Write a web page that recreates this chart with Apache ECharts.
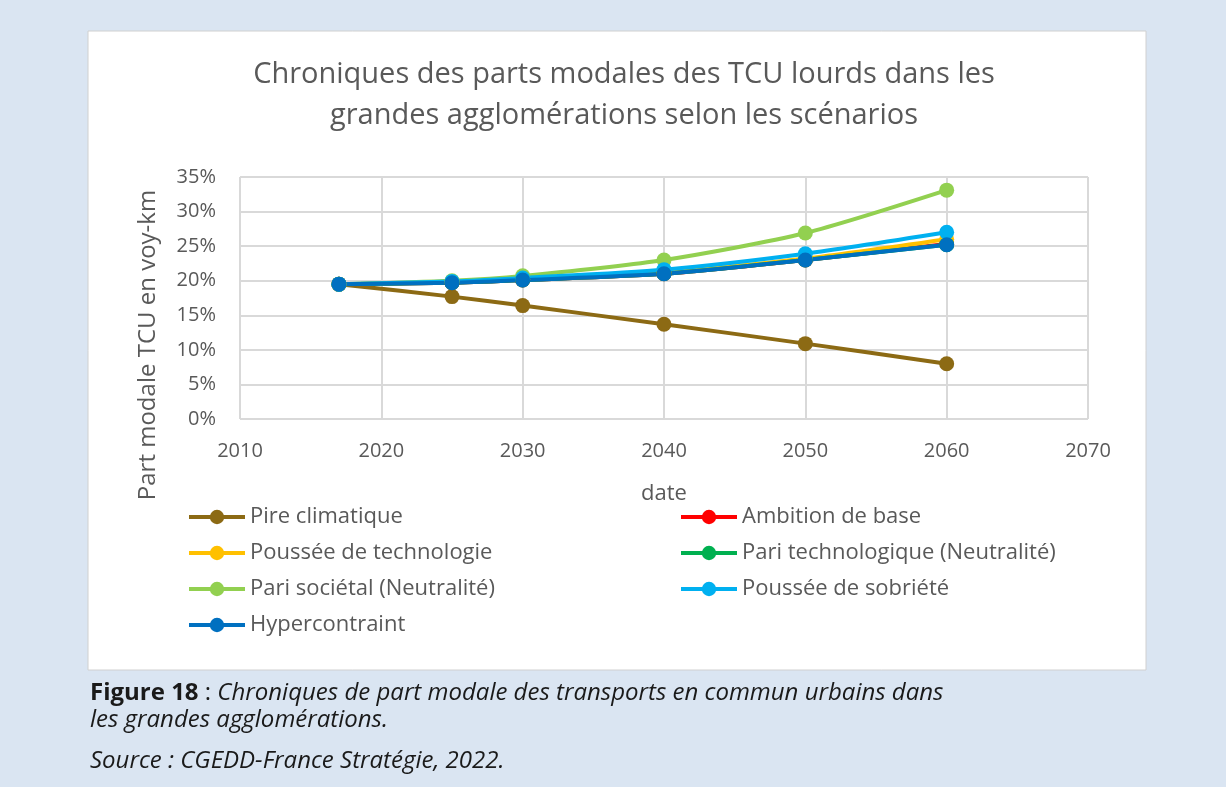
<!DOCTYPE html>
<html>
<head>
    <meta charset="utf-8">
    <title>Parts modales des TCU lourds</title>
    <script src="https://cdn.jsdelivr.net/npm/echarts@6/dist/echarts.min.js"></script>
    <style>
        html, body { margin: 0; padding: 0; background: #dae5f2; }
    </style>
</head>
<body>
<div id="main" style="width:1226px;height:787px;"></div>
<script type="text/javascript">
    // data (share in %)
    var years = [2017, 2025, 2030, 2040, 2050, 2060];
    var pireClimatique = [19.5, 17.7, 16.4, 13.7, 10.9, 8.0];
    var ambitionBase = [19.5, 19.7, 20.1, 21.0, 23.0, 25.3];
    var pousseeTechno = [19.5, 19.8, 20.2, 21.2, 23.2, 26.0];
    var pariTechno = [19.5, 19.7, 20.1, 21.0, 23.0, 25.2];
    var pariSocietal = [19.5, 20.0, 20.7, 23.0, 26.9, 33.1];
    var pousseeSobriete = [19.5, 19.9, 20.4, 21.6, 23.9, 27.0];
    var hypercontraint = [19.5, 19.7, 20.1, 21.0, 23.0, 25.2];

    var seriesNames = ['Pire climatique', 'Ambition de base', 'Poussée de technologie',
        'Pari technologique (Neutralité)', 'Pari sociétal (Neutralité)',
        'Poussée de sobriété', 'Hypercontraint'];
    var seriesData = [pireClimatique, ambitionBase, pousseeTechno, pariTechno,
        pariSocietal, pousseeSobriete, hypercontraint];
    var colors = ['#8c6a14', '#ff0000', '#ffc000', '#00b050', '#92d050', '#00b0f0', '#0070c0'];

    var font = '"Open Sans", "Noto Sans", sans-serif';
    var grey = '#595959';

    var myChart = echarts.init(document.getElementById('main'));

    var legendBase = {
        orient: 'vertical',
        top: 501,
        itemWidth: 56,
        itemHeight: 18,
        itemGap: 14,
        lineStyle: { width: 4 },
        textStyle: { fontSize: 22, color: grey, fontFamily: font }
    };

    var option = {
        backgroundColor: '#dae5f2',
        animation: false,
        textStyle: { fontFamily: font },
        title: {
            text: 'Chroniques des parts modales des TCU lourds dans les\ngrandes agglomérations selon les scénarios',
            left: 619,
            textAlign: 'center',
            top: 49,
            textStyle: { fontSize: 29, fontWeight: 'normal', color: grey, lineHeight: 41, fontFamily: font }
        },
        legend: [
            Object.assign({}, legendBase, {
                data: [seriesNames[0], seriesNames[2], seriesNames[4], seriesNames[6]],
                left: 182
            }),
            Object.assign({}, legendBase, {
                data: [seriesNames[1], seriesNames[3], seriesNames[5]],
                left: 674
            })
        ],
        grid: { left: 240, right: 138, top: 177, bottom: 368 },
        xAxis: {
            type: 'value',
            min: 2010,
            max: 2070,
            interval: 10,
            name: 'date',
            nameLocation: 'middle',
            nameGap: 64,
            nameTextStyle: { fontSize: 22, color: grey },
            axisLine: { show: false },
            axisTick: { show: false },
            axisLabel: { fontSize: 20, color: grey, margin: 22, formatter: function (v) { return String(v); } },
            splitLine: { lineStyle: { color: '#d9d9d9', width: 2 } }
        },
        yAxis: {
            type: 'value',
            min: 0,
            max: 35,
            interval: 5,
            name: 'Part modale TCU en voy-km',
            nameLocation: 'middle',
            nameGap: 80,
            nameTextStyle: { fontSize: 24, color: grey, padding: [0, 94, 0, 0] },
            axisLine: { show: false },
            axisTick: { show: false },
            axisLabel: { fontSize: 20, color: grey, margin: 24, formatter: '{value}%' },
            splitLine: { lineStyle: { color: '#d9d9d9', width: 2 } }
        },
        series: seriesNames.map(function (name, i) {
            return {
                name: name,
                type: 'line',
                smooth: 0.25,
                symbol: 'circle',
                symbolSize: 15,
                color: colors[i],
                lineStyle: { width: 4 },
                data: years.map(function (y, k) { return [y, seriesData[i][k]]; })
            };
        }),
        graphic: [
            {
                type: 'rect',
                z: -10,
                shape: { x: 88, y: 31, width: 1058, height: 639 },
                style: { fill: '#ffffff', stroke: '#d0d0d0', lineWidth: 1 }
            },
            {
                type: 'text',
                left: 90,
                top: 680,
                style: {
                    text: '{b|Figure 18} : {i|Chroniques de part modale des transports en commun urbains dans}\n{i|les grandes agglomérations.}',
                    fill: '#1a1a1a',
                    font: '24px ' + font,
                    lineHeight: 27,
                    rich: {
                        b: { fontWeight: 'bold', fontSize: 24, fontFamily: font, fill: '#1a1a1a' },
                        i: { fontStyle: 'italic', fontSize: 24, fontFamily: font, fill: '#1a1a1a' }
                    }
                }
            },
            {
                type: 'text',
                left: 90,
                top: 749,
                style: {
                    text: 'Source : CGEDD-France Stratégie, 2022.',
                    fill: '#1a1a1a',
                    font: 'italic 24px ' + font
                }
            }
        ]
    };

    myChart.setOption(option);
</script>
</body>
</html>
